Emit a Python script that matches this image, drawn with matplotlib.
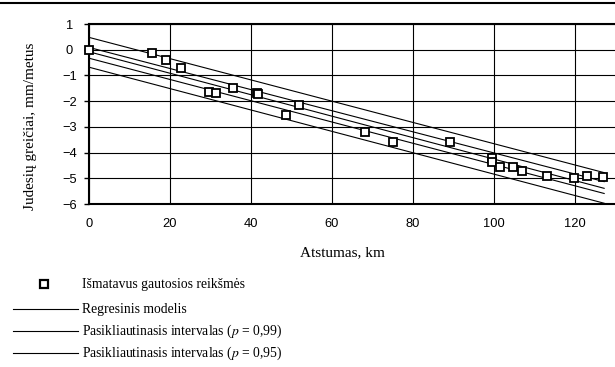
import matplotlib
matplotlib.use("Agg")
import matplotlib.pyplot as plt
from matplotlib.lines import Line2D

plt.rcParams['mathtext.fontset'] = 'stix'

# measured values (distance km, velocity mm/year)
dist = [0, 15.6, 18.9, 22.6, 29.6, 31.4, 35.5, 41.4, 41.8, 48.6, 51.9, 68.1, 75.1,
        89.2, 99.5, 99.5, 101.6, 104.8, 106.9, 113.2, 119.8, 123.0, 126.8]
speed = [0.0, -0.14, -0.40, -0.70, -1.63, -1.68, -1.48, -1.68, -1.72, -2.54, -2.14,
         -3.21, -3.58, -3.58, -4.23, -4.35, -4.55, -4.55, -4.72, -4.93, -4.98, -4.91, -4.96]

# line endpoints
line_x = [0, 127.2]
model_y = [-0.08, -5.39]
ci99_upper = [0.48, -4.78]
ci99_lower = [-0.68, -5.97]
ci95_upper = [0.09, -5.13]
ci95_lower = [-0.33, -5.59]

xticks = [0, 20, 40, 60, 80, 100, 120]
yticks = [1, 0, -1, -2, -3, -4, -5, -6]

legend_labels = ['Išmatavus gautosios reikšmės',
                 'Regresinis modelis',
                 'Pasikliautinasis intervalas ($p$ = 0,99)',
                 'Pasikliautinasis intervalas ($p$ = 0,95)']

W, H = 615, 367
fig = plt.figure(figsize=(W / 100, H / 100), dpi=100)
ax = fig.add_axes([0.1447, 0.4441, 0.8561, 0.4905])

ax.plot(line_x, model_y, color='black', lw=0.8, zorder=3)
ax.plot(line_x, ci99_upper, color='black', lw=0.8, zorder=3)
ax.plot(line_x, ci99_lower, color='black', lw=0.8, zorder=3)
ax.plot(line_x, ci95_upper, color='black', lw=0.8, zorder=3)
ax.plot(line_x, ci95_lower, color='black', lw=0.8, zorder=3)
ax.plot(dist, speed, 's', ms=6, mfc='white', mec='black', mew=1.3, zorder=4,
        clip_on=False)

ax.set_xlim(0, 130)
ax.set_ylim(-6, 1)
ax.set_xticks(xticks)
ax.set_yticks(yticks)
ax.grid(True, color='black', lw=0.8)
ax.set_axisbelow(True)

for side in ['left', 'top', 'bottom']:
    ax.spines[side].set_linewidth(1.5)
ax.spines['right'].set_visible(False)

ax.tick_params(axis='x', length=0, pad=10, labelsize=9.3)
ax.tick_params(axis='y', length=3.6, width=1, pad=10.4, labelsize=9.3)
for lbl in ax.get_xticklabels() + ax.get_yticklabels():
    lbl.set_fontfamily('Liberation Sans')
for lbl in ax.get_yticklabels():
    lbl.set_ha('center')

ax.set_xlabel('Atstumas, km', fontfamily='Liberation Serif', fontsize=11)
ax.xaxis.set_label_coords(0.482, -0.235)
ax.set_ylabel('Judesių greičiai, mm/metus', fontfamily='Liberation Serif', fontsize=11)
ax.yaxis.set_label_coords(-0.099, 0.43)

# frame line at top of figure
fig.add_artist(Line2D([0, 1], [0.992, 0.992], transform=fig.transFigure,
                      color='black', lw=1.5))

# legend below the chart, laid out by hand (pixel rows)
row_y = [284, 309, 331, 353]
for i, label in enumerate(legend_labels):
    yf = 1 - row_y[i] / H
    if i == 0:
        fig.add_artist(Line2D([44 / W], [yf], transform=fig.transFigure, ls='none',
                              marker='s', ms=6, mfc='white', mec='black', mew=1.6))
    else:
        fig.add_artist(Line2D([12.5 / W, 78 / W], [yf, yf], transform=fig.transFigure,
                              color='black', lw=0.8))
    fig.text(82 / W, 1 - (row_y[i] + 4) / H, label, ha='left', va='baseline',
             fontfamily='Liberation Serif', fontsize=9.8)

fig.savefig('out.png', dpi=100)
